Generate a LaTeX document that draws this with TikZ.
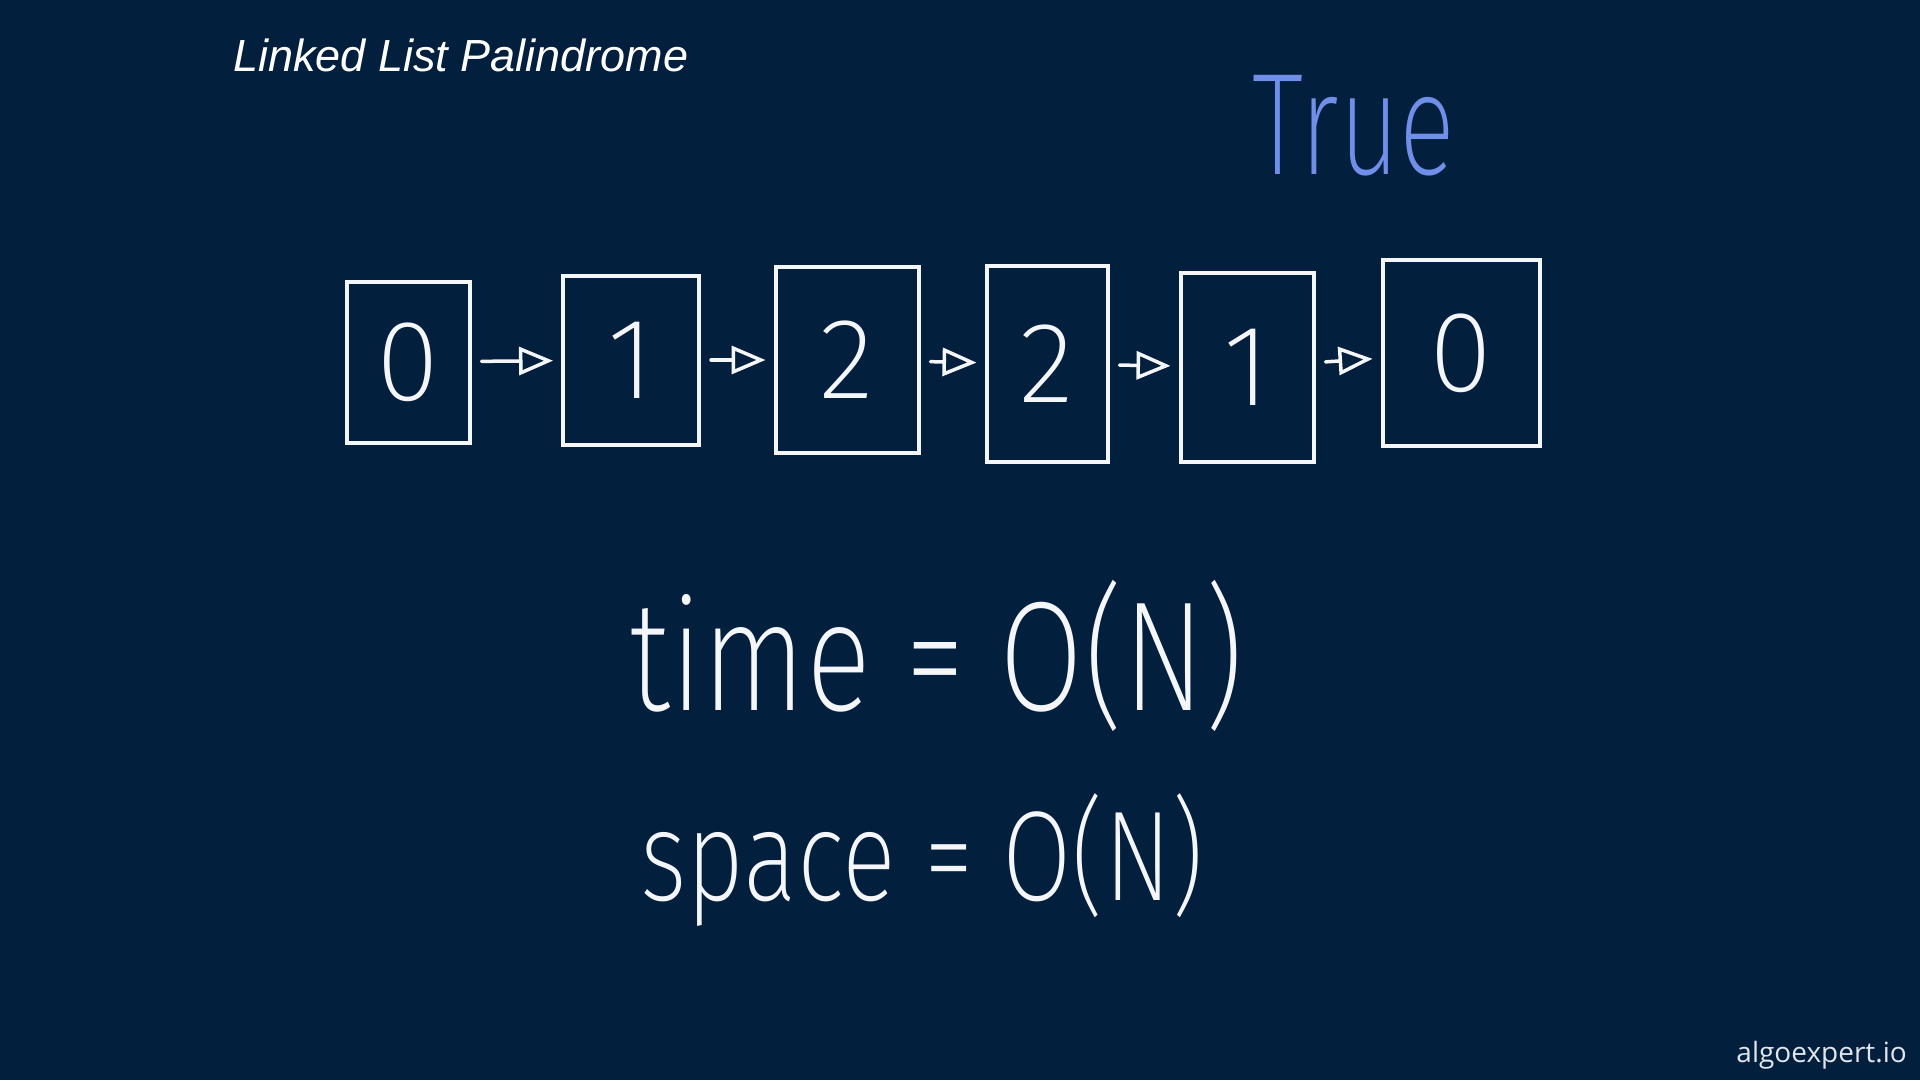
\documentclass[tikz,border=0pt]{standalone}
\usepackage{fontspec}
\usetikzlibrary{arrows.meta}
\setmainfont{Liberation Sans}
\newfontfamily\handfont{Fira Sans ExtraLight}
\newfontfamily\markfont{Open Sans}
\definecolor{bgnavy}{RGB}{2,31,62}
\definecolor{chalk}{RGB}{244,246,250}
\definecolor{penblue}{RGB}{111,143,232}
\definecolor{markgray}{RGB}{225,229,236}
\tikzset{
  cell/.style={draw=chalk, line width=4pt, rectangle, inner sep=0pt,
    text=chalk, font=\handfont\fontsize{115}{115}\selectfont},
  link/.style={draw=chalk, line width=3.5pt, line cap=round,
    -{Triangle[open, length=34pt, width=28pt, line width=3.5pt]},
    shorten <=10pt, shorten >=8pt},
  hand/.style={text=chalk, inner sep=0pt, anchor=base},
}
\begin{document}
\begin{tikzpicture}[x=1pt,y=-1pt]
\fill[bgnavy] (0,0) rectangle (1920,1080);
\useasboundingbox (0,0) rectangle (1920,1080);

\node[anchor=base west, inner sep=0pt, text=white,
  font=\itshape\fontsize{45}{45}\selectfont] (title) at (233,71) {Linked List Palindrome};

\node[anchor=base, inner sep=0pt, text=penblue,
  font=\handfont\fontsize{145}{145}\selectfont] (result) at (1354,174)
  {\scalebox{0.72}[1]{True}};

\node[cell, minimum width=123pt, minimum height=161pt] (b0) at (408,362) {0};
\node[cell, minimum width=136pt, minimum height=169pt] (b1) at (631,360) {1};
\node[cell, minimum width=143pt, minimum height=186pt] (b2) at (847,360) {2};
\node[cell, minimum width=121pt, minimum height=196pt] (b3) at (1047,364) {2};
\node[cell, minimum width=133pt, minimum height=189pt] (b4) at (1247,367) {1};
\node[cell, minimum width=157pt, minimum height=186pt] (b5) at (1461,353) {0};

\draw[link] (b0) -- (b1);
\draw[link] (b1) -- (b2);
\draw[link] (b2) -- (b3);
\draw[link] (b3) -- (b4);
\draw[link] (b4) -- (b5);

\node[hand, font=\handfont\fontsize{156}{156}\selectfont] (time) at (937,710)
  {\scalebox{0.78}[1]{time = O(N)}};
\node[hand, font=\handfont\fontsize{128}{128}\selectfont] (space) at (922,900)
  {\scalebox{0.785}[1]{space = O(N)}};

\node[anchor=base east, inner sep=0pt, text=markgray,
  font=\markfont\fontsize{28}{28}\selectfont] (mark) at (1907,1062) {algoexpert.io};
\end{tikzpicture}
\end{document}
